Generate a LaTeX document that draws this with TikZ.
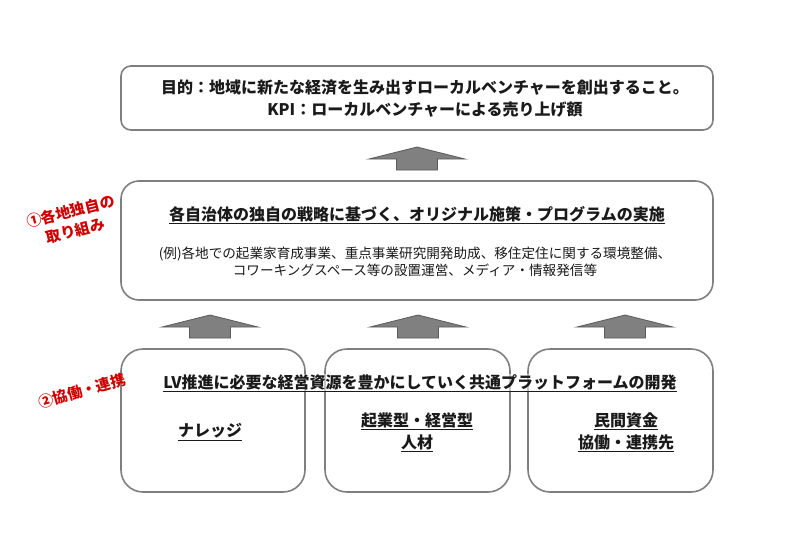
\documentclass[tikz,border=0pt]{standalone}
\usepackage{fontspec}
\setmainfont{Noto Sans CJK JP}
\definecolor{boxgray}{HTML}{7F7F7F}
\definecolor{arrowfill}{HTML}{808080}
\definecolor{arrowline}{HTML}{5A5A5A}
\definecolor{labred}{HTML}{D00000}
\definecolor{txt}{HTML}{1A1A1A}
\begin{document}
\begin{tikzpicture}[x=1pt,y=-1pt,
  box/.style={draw=boxgray, line width=1.6pt, fill=white, inner sep=0pt},
  title/.style={font=\bfseries\fontsize{16}{22}\selectfont, text=txt, align=center, inner sep=0pt},
  body/.style={font=\fontsize{13.6}{17}\selectfont, text=txt, align=center, inner sep=0pt},
  redlab/.style={font=\bfseries\fontsize{15}{20}\selectfont, text=labred, align=center, inner sep=0pt, rotate=14},
  uparrow/.pic={\draw[fill=arrowfill, draw=arrowline, line width=0.8pt]
     (-20.5,0) -- (-20.5,-11) -- (-48,-11) -- (0,-23) -- (48,-11) -- (20.5,-11) -- (20.5,0) -- cycle;}
]
\useasboundingbox[fill=white] (0,0) rectangle (800,554);

% top box
\node[box, rounded corners=10pt, minimum width=592pt, minimum height=64pt] (goal) at (417,98) {};
\node[title] (goaltext) at (425,99) {目的：地域に新たな経済を生み出すローカルベンチャーを創出すること。\\KPI：ローカルベンチャーによる売り上げ額};

% arrow to top
\pic at (417,170) {uparrow};

% middle box
\node[box, rounded corners=18pt, minimum width=592pt, minimum height=119pt] (local) at (417,240.5) {};
\node[title] (localtitle) at (417,215) {\underline{各自治体の独自の戦略に基づく、オリジナル施策・プログラムの実施}};
\node[body] (localex) at (415,261.5) {(例)各地での起業家育成事業、重点事業研究開発助成、移住定住に関する環境整備、\\コワーキングスペース等の設置運営、メディア・情報発信等};
\node[redlab] (lab1) at (73,221) {①各地独自の\\取り組み};

% arrows row
\pic at (210,338) {uparrow};
\pic at (418,338) {uparrow};
\pic at (625,338) {uparrow};

% bottom boxes
\node[box, rounded corners=22pt, minimum width=184pt, minimum height=143pt] (knowledge) at (213,420.5) {};
\node[box, rounded corners=22pt, minimum width=185pt, minimum height=143pt] (people) at (417.5,420.5) {};
\node[box, rounded corners=22pt, minimum width=185pt, minimum height=143pt] (funds) at (620.5,420.5) {};

\node[title, fill=white, fill opacity=0.55, text opacity=1] (platform) at (420,383) {\underline{LV推進に必要な経営資源を豊かにしていく共通プラットフォームの開発}};
\node[title] (ktext) at (210,432) {\underline{ナレッジ}};
\node[title] (ptext) at (417,432) {\underline{起業型・経営型}\\\underline{人材}};
\node[title] (ftext) at (626,432) {\underline{民間資金}\\\underline{協働・連携先}};
\node[redlab, rotate=2] (lab2) at (82,391) {②協働・連携};
\end{tikzpicture}
\end{document}
